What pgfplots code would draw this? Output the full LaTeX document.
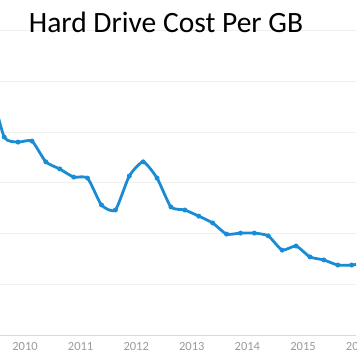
\documentclass[border=0pt]{standalone}
\usepackage{pgfplots}
\pgfplotsset{compat=1.18}
\usepackage{fontspec}
\setmainfont{Carlito}
\definecolor{lineblue}{HTML}{1A8CD6}
\definecolor{gridgray}{HTML}{F0F0F0}
\definecolor{axisgray}{HTML}{D9D9D9}
\definecolor{tickgray}{HTML}{9A9A9A}
\begin{document}
\begin{tikzpicture}[x=1pt,y=1pt]
\path[use as bounding box] (0,0) rectangle (356,364);
\clip (0,0) rectangle (356,364);
\begin{axis}[
  at={(0pt,29pt)}, anchor=south west,
  scale only axis, width=369.72pt, height=335pt,
  xmin=2009.5504, xmax=2016.2,
  ymin=0, ymax=0.13215,
  axis x line*=bottom, axis y line*=left,
  x axis line style={draw=axisgray, line width=0.8pt, -},
  y axis line style={draw=none},
  xtick={2010,2011,2012,2013,2014,2015,2016},
  xticklabels={2010,2011,2012,2013,2014,2015,2016},
  x tick label style={font=\fontsize{12.5}{12.5}\selectfont, text=tickgray, yshift=-4pt},
  major tick length=0pt,
  ytick={0.02,0.04,0.06,0.08,0.10,0.12},
  yticklabels={},
  ymajorgrids, grid style={draw=gridgray, line width=0.9pt},
  clip=true,
]
\addplot[lineblue, line width=2.8pt, smooth, tension=0.35, mark=*, mark size=2.2pt,
  mark options={fill=lineblue, draw=lineblue, line width=0.5pt}] coordinates {
(2009.375,0.0986)
(2009.625,0.0781)
(2009.875,0.0761)
(2010.125,0.0765)
(2010.375,0.0683)
(2010.625,0.0655)
(2010.875,0.0623)
(2011.125,0.0619)
(2011.375,0.0513)
(2011.625,0.0493)
(2011.875,0.0627)
(2012.125,0.0683)
(2012.375,0.0619)
(2012.625,0.0505)
(2012.875,0.0493)
(2013.125,0.0469)
(2013.375,0.0442)
(2013.625,0.0398)
(2013.875,0.0402)
(2014.125,0.0402)
(2014.375,0.0391)
(2014.625,0.0335)
(2014.875,0.0351)
(2015.125,0.0308)
(2015.375,0.0296)
(2015.625,0.0276)
(2015.875,0.0276)
(2016.125,0.0284)
};
\end{axis}
\node[anchor=base, font=\fontsize{29.5}{29.5}\selectfont, text=black] at (166,331) {Hard Drive Cost Per GB};
\end{tikzpicture}
\end{document}
